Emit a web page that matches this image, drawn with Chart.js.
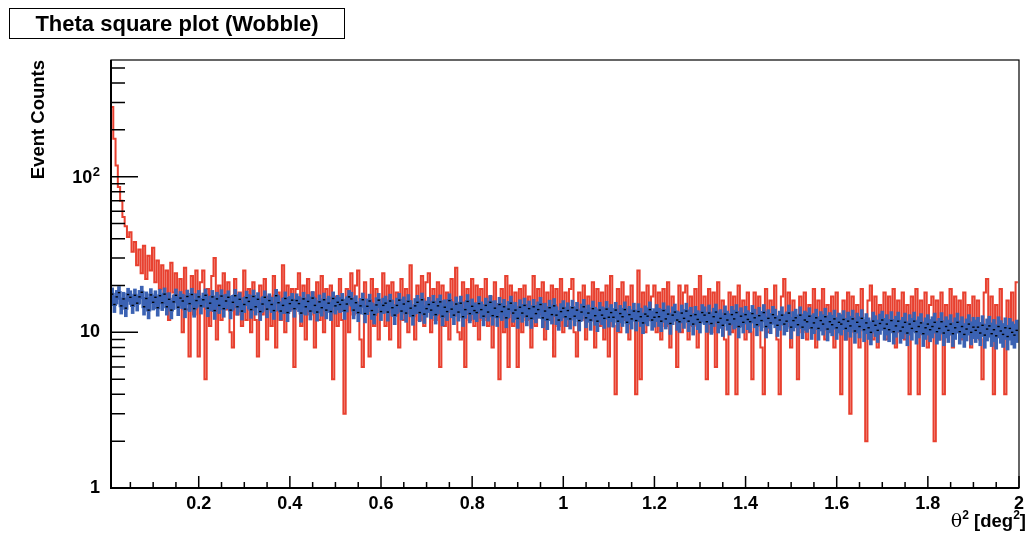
<!DOCTYPE html>
<html>
<head>
<meta charset="utf-8">
<script src="https://cdn.jsdelivr.net/npm/chart.js@4/dist/chart.umd.min.js"></script>
<style>
html,body{margin:0;padding:0;background:#fff;}
#wrap{position:relative;width:1029px;height:536px;font-family:"Liberation Sans",Arial,Helvetica,sans-serif;}
#cv{position:absolute;left:0;top:0;}
#title{position:absolute;left:9px;top:8px;width:334px;height:29px;border:1.5px solid #000;font-weight:bold;font-size:22px;line-height:29px;text-align:center;white-space:nowrap;}
#ytitle{position:absolute;left:0;top:0;width:300px;height:20px;line-height:20px;font-size:18.5px;font-weight:bold;text-align:right;white-space:nowrap;transform-origin:0 0;transform:translate(28px,360px) rotate(-90deg);}
#xtitle{position:absolute;right:3px;top:509px;height:22px;line-height:22px;font-size:18.5px;font-weight:bold;white-space:nowrap;}
.sup{font-size:12px;position:relative;top:-8px;}
.th{font-weight:normal;font-family:"DejaVu Serif",serif;font-size:19px;}
</style>
</head>
<body>
<div id="wrap">
  <canvas id="cv" width="1029" height="536"></canvas>
  <div id="title">Theta square plot (Wobble)</div>
  <div id="ytitle">Event Counts</div>
  <div id="xtitle"><span class="th">θ</span><span class="sup">2</span> [deg<span class="sup">2</span>]</div>
</div>
<script>
// ---- Data (theta^2 histogram, bin width 0.005 starting at 0.0075) ----
const thetaMin = 0.0075;
const thetaMax = 2.0;
const binWidth = 0.005;

// ON counts (red)
const onCounts = [
280,175,118,86,70,55,48,41,44,33,38,27,34,24,36,22,31,25,35,21,
29,19,27,16,25,12,28,18,24,15,22,10,26,14,7,23,13,25,7,21,
25,5,19,11,23,30,9,20,12,24,14,21,10,8,22,13,18,11,25,12,
19,10,21,12,7,20,13,22,9,17,11,23,8,18,12,27,10,20,14,19,
6,19,24,11,20,9,22,13,18,8,21,12,23,10,19,14,20,5,17,11,
22,12,3,19,10,24,13,20,25,9,6,21,14,7,22,11,19,9,15,24,
11,20,9,21,13,18,8,22,12,19,10,27,13,9,20,12,23,11,21,24,
10,19,12,21,6,20,11,18,9,22,13,26,10,9,21,6,19,12,22,11,
20,9,19,12,22,11,17,8,21,13,5,19,10,23,6,20,11,18,6,19,
10,20,12,17,8,23,11,19,13,21,9,18,12,20,7,19,11,22,10,18,
11,19,22,10,7,18,12,20,9,17,13,21,8,19,11,18,9,20,7,23,
11,4,19,10,21,12,17,9,20,13,4,25,5,18,10,20,12,17,20,10,
18,9,19,11,21,8,17,12,6,20,10,18,20,9,17,11,19,8,23,12,
17,5,19,10,18,6,21,11,16,9,4,18,10,17,4,20,11,16,9,18,
10,5,18,11,17,8,4,19,10,16,12,20,9,4,17,22,11,18,8,16,
11,5,17,10,18,9,15,11,19,8,16,12,19,9,15,10,17,8,18,11,
4,16,9,18,3,17,10,15,8,19,11,2,16,20,9,17,8,15,11,18,
9,17,11,19,8,16,10,18,9,15,4,17,11,19,4,16,10,18,8,15,
17,2,16,9,18,4,15,10,19,8,17,11,16,9,18,10,15,8,17,11,
16,9,5,18,22,10,17,4,15,11,19,9,4,16,10,18,9,21
];

// normalised OFF counts (blue, with black bin markers)
const offCounts = [
17.6,15.1,16.9,18.0,14.8,16.4,14.3,17.5,16.8,14.9,17.3,15.4,16.9,18.1,14.6,16.5,13.9,17.4,15.6,16.8,
14.4,17.2,15.5,17.6,14.6,16.3,13.9,15.7,17.3,14.5,16.6,15.9,14.1,17.0,15.3,17.5,14.2,16.0,16.9,14.8,
16.2,17.3,14.3,15.4,16.9,13.8,16.4,14.9,17.1,14.2,15.9,16.8,13.9,15.6,17.2,14.6,16.3,13.7,15.1,16.7,
15.8,14.0,17.0,14.6,16.3,13.6,15.2,16.8,14.1,16.0,15.1,13.8,17.2,15.5,13.7,14.9,16.5,13.4,15.3,16.1,
14.2,16.0,15.3,13.3,16.4,14.6,15.8,13.7,16.6,14.9,13.5,15.7,14.4,16.2,13.9,15.4,13.6,16.5,14.8,15.6,
15.1,16.1,13.8,15.2,16.9,16.4,13.9,15.5,13.4,14.8,16.2,13.2,14.7,15.9,13.8,13.0,15.0,16.1,13.6,14.9,
15.4,13.5,15.9,14.4,12.9,14.9,16.1,13.7,15.2,13.3,15.8,14.3,12.8,14.8,15.6,13.4,16.2,13.1,14.2,15.1,
13.9,15.6,13.0,14.8,15.7,12.7,14.5,13.6,16.0,14.1,12.9,15.2,13.5,15.4,12.6,14.0,15.8,13.2,14.7,13.8,
13.4,15.3,14.0,12.7,14.9,13.5,15.6,12.8,14.3,12.6,15.1,13.6,14.6,12.4,14.1,15.4,13.3,13.9,12.3,14.5,
13.3,14.9,12.7,14.2,12.3,14.6,13.2,14.0,15.1,12.4,13.7,12.1,14.4,13.0,14.8,12.9,12.0,13.6,14.3,12.6,
13.8,12.2,14.4,12.7,13.9,11.9,13.5,14.6,12.4,13.3,12.0,14.2,12.8,11.8,13.9,12.9,12.3,14.1,12.5,13.4,
12.5,13.9,11.8,13.2,12.6,14.0,11.6,13.0,12.2,13.7,11.9,13.6,12.6,11.5,13.1,12.7,14.0,12.0,12.5,13.4,
12.6,11.8,13.8,12.2,13.1,11.4,12.9,13.5,12.0,11.7,13.3,12.3,13.7,11.8,12.8,11.3,13.0,12.1,11.6,13.4,
12.9,11.7,13.3,11.4,12.6,13.5,11.6,12.3,11.1,13.1,12.0,11.3,13.0,12.2,13.4,10.9,12.7,11.6,13.0,12.1,
11.7,13.2,12.4,11.2,12.8,11.9,13.4,10.9,12.3,11.5,13.0,12.4,11.1,12.0,12.9,11.3,11.8,13.3,10.8,11.9,
12.4,11.2,12.9,10.8,12.0,11.7,12.7,10.7,11.5,12.4,10.6,11.9,11.3,12.6,10.5,11.7,11.2,12.2,10.7,11.6,
11.3,12.1,10.6,11.8,11.0,12.2,10.2,11.6,10.9,12.3,10.4,11.5,10.7,10.0,11.8,11.1,10.3,11.4,12.0,10.6,
11.3,10.4,11.9,10.1,11.0,11.8,10.2,10.8,11.6,9.9,11.3,10.6,11.8,10.1,10.9,11.5,9.8,10.7,11.3,10.4,
10.9,11.6,10.1,10.6,11.7,9.9,10.9,10.3,11.3,9.8,10.7,11.6,10.1,10.9,9.7,10.5,11.3,10.0,10.8,10.3,
10.8,9.9,11.1,9.6,10.5,11.0,9.8,10.4,9.5,10.9,10.2,9.7,10.7,9.4,10.6,10.0,9.6,10.3
];
// half-length of the OFF error bars (counts)
const offErrHalf = 1.7;

// axis ticks
const yTickValues = [1,2,3,4,5,6,7,8,9,10,20,30,40,50,60,70,80,90,100,200,300,400,500];
const yMajorTicks = [1,10,100];
const yTickLabels = {1:"1",10:"10"};
const ySupLabel = {value:100, base:"10", exp:"2"};
const xMinorStep = 0.05;
const xMajorTicks = [0.2,0.4,0.6,0.8,1,1.2,1.4,1.6,1.8,2];
const yMin = 1, yMax = 562;

// ---- build datasets from the arrays ----
function histOutline(vals){
  const pts = [];
  vals.forEach((v,i)=>{
    const lo = thetaMin + i*binWidth;
    pts.push({x:lo,y:v},{x:lo+binWidth,y:v});
  });
  return pts;
}
function binCenters(vals){
  return vals.map((v,i)=>({x:thetaMin+(i+0.5)*binWidth,y:v}));
}
function errBars(vals){
  return vals.map((v,i)=>({x:thetaMin+(i+0.5)*binWidth,y:[v-offErrHalf,v+offErrHalf]}));
}
const xTickValues = [];
for(let k=1;k*xMinorStep<=thetaMax+1e-9;k++) xTickValues.push(+(k*xMinorStep).toFixed(4));
const isXMajor = v => xMajorTicks.some(m=>Math.abs(m-v)<1e-6);

const FONT = '"Liberation Sans", Arial, Helvetica, sans-serif';

const frameTicks = {
  id:'frameTicks',
  afterDraw(chart){
    const {ctx, chartArea:a, scales:{x,y}} = chart;
    ctx.save();
    ctx.strokeStyle='#000';
    ctx.lineWidth=1.5;
    ctx.beginPath();
    yTickValues.forEach(v=>{
      const py = y.getPixelForValue(v);
      const len = yMajorTicks.includes(v)?27:14;
      ctx.moveTo(a.left,py); ctx.lineTo(a.left+len,py);
    });
    xTickValues.forEach(v=>{
      const px = x.getPixelForValue(v);
      const len = isXMajor(v)?12:6;
      ctx.moveTo(px,a.bottom); ctx.lineTo(px,a.bottom-len);
    });
    ctx.stroke();
    ctx.lineWidth=1.2;
    ctx.strokeRect(a.left,a.top,a.right-a.left,a.bottom-a.top);
    ctx.lineWidth=2;
    ctx.beginPath();
    ctx.moveTo(a.left,a.top); ctx.lineTo(a.left,a.bottom); ctx.lineTo(a.right,a.bottom);
    ctx.stroke();
    // 10^2 label with superscript
    const py = y.getPixelForValue(ySupLabel.value);
    ctx.fillStyle='#000';
    ctx.font='bold 13px '+FONT;
    ctx.textAlign='right'; ctx.textBaseline='alphabetic';
    const expW = ctx.measureText(ySupLabel.exp).width;
    ctx.fillText(ySupLabel.exp, 100, py-1);
    ctx.font='bold 18px '+FONT;
    ctx.textBaseline='middle';
    ctx.fillText(ySupLabel.base, 100-expW-0.5, py+1);
    ctx.restore();
  }
};

Chart.defaults.font.family = FONT;
Chart.defaults.color = '#000';

new Chart(document.getElementById('cv'), {
  type:'line',
  data:{
    datasets:[
      {label:'OFF bins', data:binCenters(offCounts), showLine:false, pointStyle:'line',
       pointRadius:1.2, pointBorderWidth:1.4, pointBorderColor:'#000', pointBackgroundColor:'#000', order:0},
      {type:'bar', label:'OFF err', data:errBars(offCounts), backgroundColor:'#3b62b3',
       borderWidth:0, barThickness:3, grouped:false, order:1},
      {label:'OFF', data:histOutline(offCounts), borderColor:'#3b62b3', borderWidth:3,
       pointRadius:0, tension:0, fill:false, order:2},
      {label:'ON', data:histOutline(onCounts), borderColor:'#e8402f', borderWidth:2,
       pointRadius:0, tension:0, fill:false, order:3}
    ]
  },
  options:{
    responsive:false,
    animation:false,
    events:[],
    layout:{padding:{left:0,right:4,top:60,bottom:0}},
    plugins:{legend:{display:false},tooltip:{enabled:false},title:{display:false}},
    scales:{
      x:{
        type:'linear', min:thetaMin, max:thetaMax, offset:false,
        grid:{display:false, drawTicks:false, offset:false},
        border:{display:false},
        afterBuildTicks:s=>{ s.ticks = xTickValues.map(v=>({value:v})); },
        afterFit:s=>{ s.height = 48; },
        ticks:{autoSkip:false, maxRotation:0, minRotation:0, padding:5,
          font:{size:18, weight:'bold'},
          callback:v=> isXMajor(v) ? String(+v.toFixed(2)) : ''}
      },
      y:{
        type:'logarithmic', min:yMin, max:yMax,
        grid:{display:false, drawTicks:false},
        border:{display:false},
        afterBuildTicks:s=>{ s.ticks = yTickValues.map(v=>({value:v})); },
        afterFit:s=>{ s.width = 111; },
        ticks:{autoSkip:false, padding:11,
          font:{size:18, weight:'bold'},
          callback:v=> yTickLabels[v] || ''}
      }
    }
  },
  plugins:[frameTicks]
});
</script>
</body>
</html>
